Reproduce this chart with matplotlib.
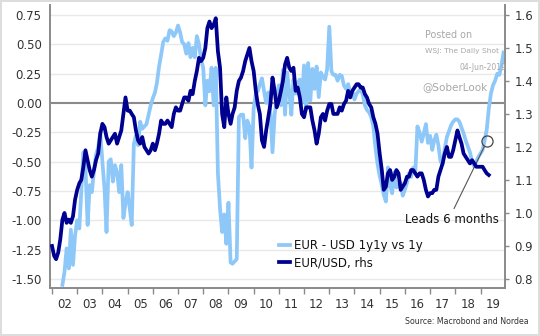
import matplotlib
matplotlib.use('Agg')
import matplotlib.pyplot as plt
import matplotlib.dates as mdates
import numpy as np
import pandas as pd

# EUR/USD, monthly from Jan 2002 (rhs)
eurusd = [
    0.90, 0.87, 0.86, 0.88, 0.92, 0.98, 1.00, 0.97, 0.98, 0.97, 0.99, 1.04,
    1.07, 1.09, 1.10, 1.14, 1.19, 1.16, 1.13, 1.11, 1.13, 1.16, 1.18, 1.24,
    1.27, 1.26, 1.23, 1.21, 1.22, 1.23, 1.24, 1.21, 1.23, 1.25, 1.30, 1.35,
    1.31, 1.31, 1.30, 1.29, 1.25, 1.22, 1.21, 1.23, 1.20, 1.19, 1.18, 1.19,
    1.21, 1.19, 1.21, 1.24, 1.28, 1.27, 1.27, 1.28, 1.27, 1.26, 1.30, 1.32,
    1.31, 1.31, 1.33, 1.35, 1.35, 1.34, 1.37, 1.36, 1.40, 1.43, 1.47, 1.46,
    1.47, 1.50, 1.56, 1.58, 1.56, 1.57, 1.59, 1.49, 1.44, 1.30, 1.26, 1.35,
    1.30, 1.27, 1.30, 1.32, 1.37, 1.40, 1.41, 1.43, 1.46, 1.48, 1.50, 1.46,
    1.43, 1.37, 1.33, 1.30, 1.22, 1.20, 1.25, 1.29, 1.33, 1.41, 1.37, 1.32,
    1.34, 1.37, 1.40, 1.45, 1.47, 1.44, 1.43, 1.44, 1.37, 1.38, 1.35, 1.30,
    1.29, 1.32, 1.32, 1.32, 1.28, 1.25, 1.21, 1.24, 1.29, 1.30, 1.28, 1.31,
    1.33, 1.33, 1.30, 1.30, 1.30, 1.32, 1.31, 1.33, 1.34, 1.37, 1.35, 1.37,
    1.38, 1.39, 1.39, 1.38, 1.38, 1.36, 1.35, 1.33, 1.32, 1.29, 1.27, 1.24,
    1.18, 1.13, 1.07, 1.08, 1.12, 1.13, 1.10, 1.11, 1.13, 1.12, 1.07, 1.08,
    1.09, 1.11, 1.11, 1.13, 1.13, 1.12, 1.11, 1.12, 1.12, 1.10, 1.07, 1.05,
    1.06, 1.06, 1.07, 1.07, 1.11, 1.13, 1.15, 1.18, 1.20, 1.17, 1.17, 1.19,
    1.22, 1.25, 1.23, 1.21, 1.18, 1.17, 1.16, 1.15, 1.16, 1.15, 1.14, 1.14,
    1.14, 1.14, 1.13, 1.12, 1.115,
]

# EUR - USD 1y1y vs 1y, monthly from Jun 2002 (lhs, shifted 6 months)
spread = [
    -1.55, -1.44, -1.24, -1.41, -1.08, -1.38, -1.13,
    -1.00, -1.07, -0.76, -0.42, -0.55, -1.04, -0.70, -0.76, -0.58, -0.44, -0.38, -0.25,
    -0.50, -0.73, -1.10, -0.50, -0.48, -0.67, -0.53, -0.59, -0.76, -0.53, -0.98, -0.85,
    -0.76, -0.90, -1.04, -0.35, -0.28, -0.36, -0.16, -0.22, -0.20, -0.18, -0.10, -0.02,
    0.04, 0.09, 0.17, 0.31, 0.41, 0.52, 0.55, 0.53, 0.62, 0.61, 0.57, 0.60,
    0.66, 0.60, 0.52, 0.50, 0.42, 0.51, 0.39, 0.47, 0.39, 0.57, 0.50, 0.37,
    0.30, -0.02, 0.19, 0.10, 0.30, -0.02, 0.30, -0.60, -0.90, -1.10, -0.95, -1.20,
    -0.85, -1.36, -1.37, -1.35, -1.33, -0.12, -0.10, -0.10, -0.30, -0.15, -0.20, -0.55,
    -0.05, 0.08, 0.10, 0.16, 0.21, 0.10, 0.00, 0.09, -0.08, -0.42, -0.10, 0.04,
    0.15, -0.02, 0.28, -0.10, 0.26, 0.10, -0.10, 0.20, 0.08, 0.17, 0.20, 0.00,
    0.32, -0.06, 0.34, 0.02, 0.29, 0.12, 0.31, 0.05, 0.26, 0.22, 0.20, 0.29,
    0.65, 0.27, 0.24, 0.24, 0.19, 0.24, 0.23, 0.15, 0.12, 0.16, 0.09, 0.10,
    0.03, 0.08, 0.10, 0.12, 0.07, -0.02, -0.06, -0.08, -0.12, -0.20, -0.38, -0.52,
    -0.62, -0.70, -0.78, -0.84, -0.55, -0.70, -0.77, -0.59, -0.72, -0.70, -0.68, -0.79,
    -0.74, -0.68, -0.60, -0.63, -0.55, -0.58, -0.20, -0.25, -0.33, -0.26, -0.18, -0.34,
    -0.28, -0.40, -0.32, -0.27, -0.36, -0.50, -0.52, -0.39, -0.29, -0.24, -0.19, -0.16,
    -0.14, -0.14, -0.16, -0.21, -0.26, -0.32, -0.37, -0.42, -0.50, -0.54, -0.50, -0.46,
    -0.43, -0.40, -0.32, -0.23, -0.05, 0.08, 0.15, 0.19, 0.25, 0.24, 0.32, 0.43,
]

left_ticks = [0.75, 0.50, 0.25, 0.00, -0.25, -0.50, -0.75, -1.00, -1.25, -1.50]
right_ticks = [1.6, 1.5, 1.4, 1.3, 1.2, 1.1, 1.0, 0.9, 0.8]

eurusd_dates = pd.date_range('2002-01-01', periods=len(eurusd), freq='MS')
spread_dates = pd.date_range('2002-06-01', periods=len(spread), freq='MS')

light = '#8ec8f9'
dark = '#000090'
grey = '#8a8a8a'
txt = '#333333'

plt.rcParams['font.family'] = ['DejaVu Sans']

fig = plt.figure(figsize=(5.4, 3.36), dpi=100)
W, H = 540.0, 336.0
ax = fig.add_axes([50 / W, 1 - 288 / H, 455 / W, 283 / H])
ax2 = ax.twinx()

# grid + zero line on the left axis
for t in left_ticks:
    if t == 0:
        ax.axhline(0, color=grey, lw=1.5, zorder=1)
    else:
        ax.axhline(t, color='#e8e8e8', lw=1.0, zorder=0)

l1, = ax.plot(spread_dates, spread, color=light, lw=2.7, zorder=3,
              solid_joinstyle='round', label='EUR - USD 1y1y vs 1y')
l2, = ax2.plot(eurusd_dates, eurusd, color=dark, lw=2.7, zorder=3,
               solid_joinstyle='round', label='EUR/USD, rhs')

ax.set_ylim(-1.577, 0.835)
ax2.set_ylim(0.7727, 1.630)
ax.set_xlim(pd.Timestamp('2001-12-03'), pd.Timestamp('2019-12-22'))

ax.set_yticks(left_ticks)
ax.set_yticklabels(['%.2f' % t for t in left_ticks])
ax2.set_yticks(right_ticks)
ax2.set_yticklabels(['%.1f' % t for t in right_ticks])

ax.xaxis.set_major_locator(mdates.YearLocator())
ax.xaxis.set_major_formatter(plt.NullFormatter())
ax.xaxis.set_minor_locator(mdates.MonthLocator(bymonth=7))
ax.xaxis.set_minor_formatter(mdates.DateFormatter('%y'))

ax.tick_params(axis='x', which='major', length=4, width=1, color=grey, direction='out')
ax.tick_params(axis='x', which='minor', length=0, pad=7, labelsize=8.5, labelcolor=txt)
ax.tick_params(axis='y', length=0, pad=6, labelsize=8.5, labelcolor=txt)
ax2.tick_params(axis='y', length=3, width=1, color=grey, pad=4, labelsize=8.5, labelcolor=txt)

for a in (ax, ax2):
    a.spines['top'].set_visible(False)
    for s in ('left', 'right', 'bottom'):
        a.spines[s].set_color(grey)
        a.spines[s].set_linewidth(1.2)
ax.patch.set_visible(False)

# annotation
circ_x = pd.Timestamp('2019-04-05')
ax.plot([circ_x], [-0.324], 'o', ms=8, mfc='none', mec='#444444', mew=0.9, zorder=5)
ax.annotate('Leads 6 months', xy=(circ_x, -0.324),
            xytext=(pd.Timestamp('2017-11-15'), -0.99),
            ha='center', va='center', fontsize=8.5, color='#111111',
            arrowprops=dict(arrowstyle='-', color='#555555', lw=0.8,
                            shrinkA=1, shrinkB=4, relpos=(0.5, 1.0)),
            zorder=6)

leg = ax2.legend(handles=[l1, l2], loc='upper left', frameon=False,
                 bbox_to_anchor=(279 / W, 1 - 239 / H), bbox_transform=fig.transFigure,
                 fontsize=8.5, handlelength=0.95, handletextpad=0.3,
                 labelspacing=0.35, borderpad=0, borderaxespad=0)
for t in leg.get_texts():
    t.set_color('#111111')

# watermark
wm = '#a8a8a8'
fig.text(425 / W, 1 - 35.5 / H, 'Posted on', fontsize=6.9, color=wm, va='center', ha='left')
fig.text(425 / W, 1 - 51.5 / H, 'WSJ: The Daily Shot', fontsize=5.4, color=wm, va='center', ha='left')
fig.text(506 / W, 1 - 67 / H, '04-Jun-2019', fontsize=5.5, color=wm, va='center', ha='right')
fig.text(422 / W, 1 - 87.5 / H, '@SoberLook', fontsize=7.5, color=wm, va='center', ha='left')

fig.text(529 / W, 1 - 322 / H, 'Source: Macrobond and Nordea', fontsize=5.7,
         color=txt, va='center', ha='right')

fig.patch.set_edgecolor('#dddddd')
fig.patch.set_linewidth(1.5)

fig.savefig('out.png', dpi=100)
